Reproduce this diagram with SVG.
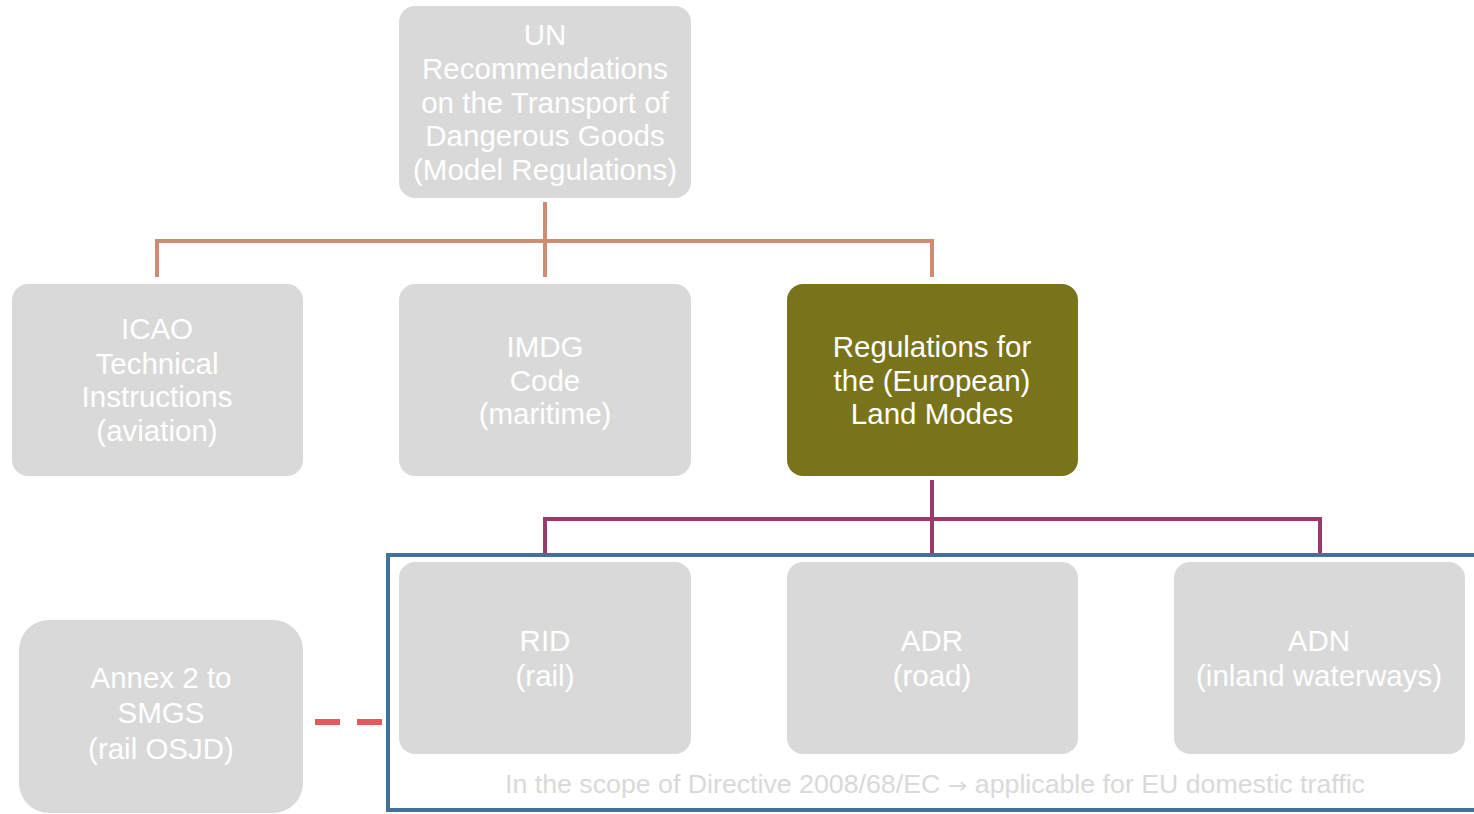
<svg xmlns="http://www.w3.org/2000/svg" width="1474" height="814" viewBox="0 0 1474 814">
<style>
.box{fill:#d9d9d9}
.lbl{font-family:"Liberation Sans",Arial,sans-serif;font-size:29.5px;fill:#ffffff;text-anchor:middle}
.orange{stroke:#d08b73;stroke-width:4;fill:none}
.purple{stroke:#9b3a6a;stroke-width:4;fill:none}
</style>
<rect width="1474" height="814" fill="#ffffff"/>
<g id="connectors">
<path class="orange" d="M545 202V277M157 241H932M157 239V277M932 239V277"/>
<path class="purple" d="M932 480V553M545 519H1320M545 517V553M1320 517V553"/>
<path d="M315 722H384" stroke="#e05a5a" stroke-width="6" stroke-dasharray="25,17" fill="none"/>
</g>
<g id="scope">
<rect x="388" y="555" width="1100" height="255" fill="none" stroke="#44709a" stroke-width="4"/>
<text x="935" y="793" font-family="'Liberation Sans',Arial,sans-serif" font-size="25" fill="#d9d9d9" text-anchor="middle" textLength="860" lengthAdjust="spacingAndGlyphs">In the scope of Directive 2008/68/EC <tspan font-family="'DejaVu Sans',sans-serif" font-size="22">→</tspan> applicable for EU domestic traffic</text>
</g>
<g id="un">
<rect class="box" x="399" y="6" width="292" height="192" rx="16"/>
<text class="lbl" x="545" y="45">UN</text>
<text class="lbl" x="545" y="79">Recommendations</text>
<text class="lbl" x="545" y="113">on the Transport of</text>
<text class="lbl" x="545" y="146">Dangerous Goods</text>
<text class="lbl" x="545" y="180">(Model Regulations)</text>
</g>
<g id="icao">
<rect class="box" x="12" y="284" width="291" height="192" rx="16"/>
<text class="lbl" x="157" y="339">ICAO</text>
<text class="lbl" x="157" y="374">Technical</text>
<text class="lbl" x="157" y="407">Instructions</text>
<text class="lbl" x="157" y="441">(aviation)</text>
</g>
<g id="imdg">
<rect class="box" x="399" y="284" width="292" height="192" rx="16"/>
<text class="lbl" x="545" y="357">IMDG</text>
<text class="lbl" x="545" y="391">Code</text>
<text class="lbl" x="545" y="424">(maritime)</text>
</g>
<g id="land">
<rect x="787" y="284" width="291" height="192" rx="16" fill="#79741c"/>
<text class="lbl" x="932" y="357">Regulations for</text>
<text class="lbl" x="932" y="391">the (European)</text>
<text class="lbl" x="932" y="424">Land Modes</text>
</g>
<g id="rid">
<rect class="box" x="399" y="562" width="292" height="192" rx="16"/>
<text class="lbl" x="545" y="651">RID</text>
<text class="lbl" x="545" y="686">(rail)</text>
</g>
<g id="adr">
<rect class="box" x="787" y="562" width="291" height="192" rx="16"/>
<text class="lbl" x="932" y="651">ADR</text>
<text class="lbl" x="932" y="686">(road)</text>
</g>
<g id="adn">
<rect class="box" x="1174" y="562" width="291" height="192" rx="16"/>
<text class="lbl" x="1319" y="651">ADN</text>
<text class="lbl" x="1319" y="686">(inland waterways)</text>
</g>
<g id="smgs">
<rect class="box" x="19" y="620" width="284" height="193" rx="30"/>
<text class="lbl" x="161" y="688">Annex 2 to</text>
<text class="lbl" x="161" y="723">SMGS</text>
<text class="lbl" x="161" y="759">(rail OSJD)</text>
</g>
</svg>
